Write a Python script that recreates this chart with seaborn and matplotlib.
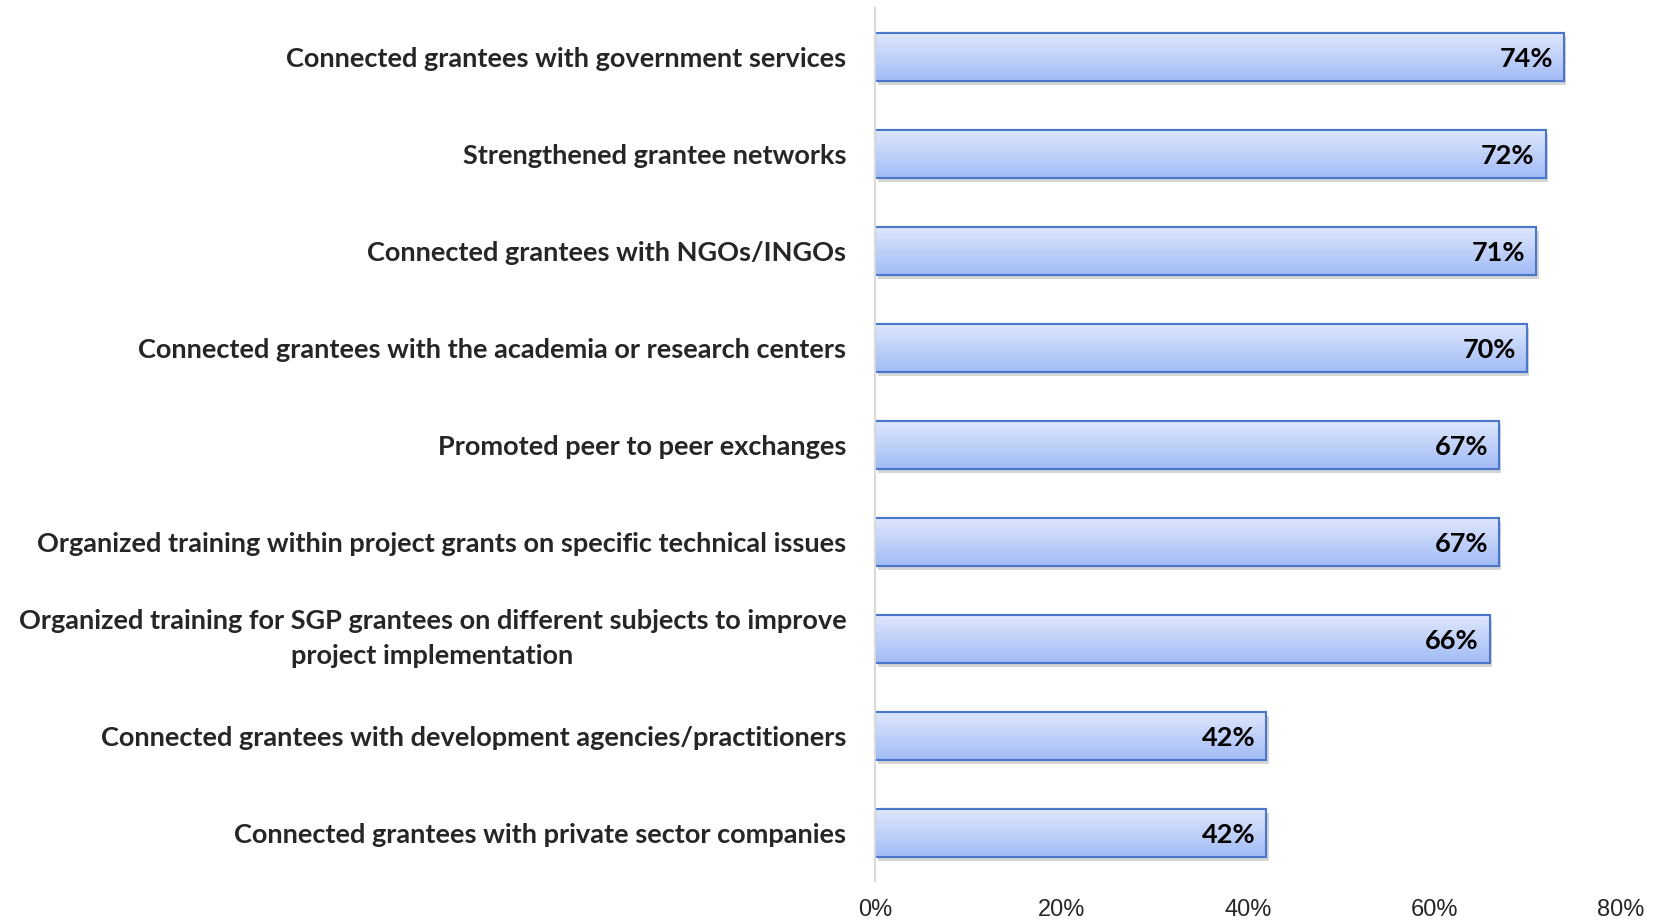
import numpy as np
import pandas as pd
import matplotlib
matplotlib.use("Agg")
import matplotlib.pyplot as plt
import matplotlib.patheffects as pe
from matplotlib import font_manager
import seaborn as sns

# ---------------------------------------------------------------------------
# Data
# ---------------------------------------------------------------------------
CATEGORIES = [
    "Connected grantees with government services",
    "Strengthened grantee networks",
    "Connected grantees with NGOs/INGOs",
    "Connected grantees with the academia or research centers",
    "Promoted peer to peer exchanges",
    "Organized training within project grants on specific technical issues",
    "Organized training for SGP grantees on different subjects to improve\nproject implementation",
    "Connected grantees with development agencies/practitioners",
    "Connected grantees with private sector companies",
]
VALUES = [0.74, 0.72, 0.71, 0.70, 0.67, 0.67, 0.66, 0.42, 0.42]
XTICKS = [0.0, 0.2, 0.4, 0.6, 0.8]

EDGE = "#4a76cc"
TOP_COL = "#dfe7fd"
BOT_COL = "#a2bcf5"

LABEL_FONT = "Lato"
installed = {f.name for f in font_manager.fontManager.ttflist}
TICK_FONT = "Liberation Sans Narrow" if "Liberation Sans Narrow" in installed else "Liberation Sans"

sns.set_theme(style="white")
plt.rcParams["font.family"] = [LABEL_FONT, "DejaVu Sans"]

df = pd.DataFrame({"label": CATEGORIES, "value": VALUES})

fig = plt.figure(figsize=(16.55, 9.21), dpi=100)
ax = fig.add_axes([0.529, 0.043, 0.45, 0.948])

sns.barplot(data=df, x="value", y="label", orient="h", ax=ax,
            color="white", edgecolor=EDGE, linewidth=1.5, width=0.5)

ax.set_xlim(0, 0.8)
ylim = ax.get_ylim()

# gradient fill clipped to each bar, plus a soft shadow
grad = np.linspace(0, 1, 64).reshape(-1, 1)
cmap = matplotlib.colors.LinearSegmentedColormap.from_list("g", [TOP_COL, BOT_COL])
for p in ax.patches:
    x0, y0 = p.get_x(), p.get_y()
    w, h = p.get_width(), p.get_height()
    p.set_path_effects([pe.SimplePatchShadow(offset=(1.5, -3), shadow_rgbFace="#888888", alpha=0.35),
                        pe.Normal()])
    im = ax.imshow(grad, extent=[x0, x0 + w, y0 + h, y0], origin="upper",
                   cmap=cmap, aspect="auto", zorder=p.get_zorder() + 0.1,
                   interpolation="bicubic")
    im.set_clip_path(p)
    # redraw edge on top
    ax.add_patch(matplotlib.patches.Rectangle((x0, y0), w, h, fill=False,
                                              edgecolor=EDGE, linewidth=1.5,
                                              zorder=p.get_zorder() + 0.2))
    ax.text(x0 + w - 0.012, y0 + h / 2 + 0.02, f"{w:.0%}", ha="right", va="center",
            fontsize=19.5, fontweight="bold", color="black", zorder=5)

ax.set_ylim(ylim)
ax.set_xlim(0, 0.8)

ax.set_xlabel("")
ax.set_ylabel("")
ax.set_xticks(XTICKS)
ax.set_xticklabels([f"{t:.0%}" for t in XTICKS], fontsize=17, family=TICK_FONT)
ax.tick_params(axis="x", length=0, pad=13)
ax.tick_params(axis="y", length=0, pad=21)
for lab in ax.get_yticklabels():
    lab.set_fontsize(19.5)
    lab.set_fontweight("bold")
    lab.set_multialignment("center")
    if "\n" in lab.get_text():
        lab.set_linespacing(1.55)
        lab.set_va("center")

for s in ["top", "right", "bottom"]:
    ax.spines[s].set_visible(False)
ax.spines["left"].set_color("#d9d9d9")
ax.spines["left"].set_linewidth(1.5)

fig.savefig("out.png", dpi=100)
